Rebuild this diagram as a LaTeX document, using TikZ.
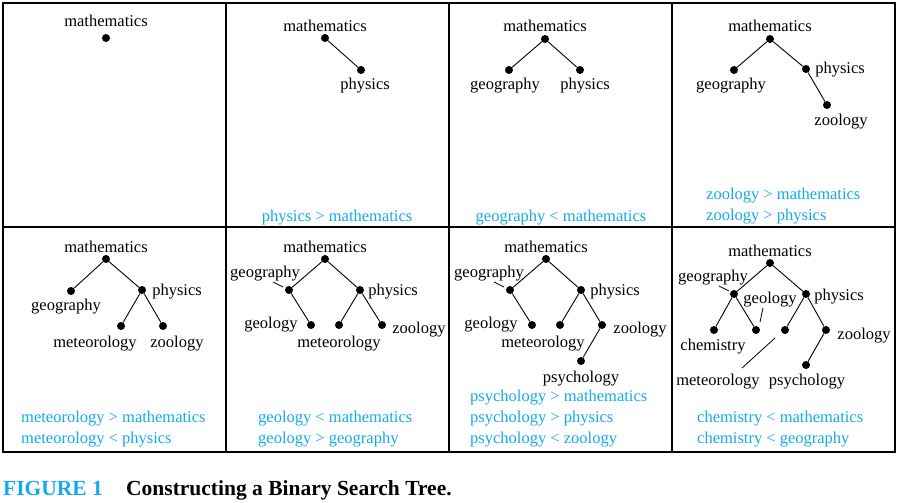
\documentclass[tikz,border=0pt]{standalone}
\usepackage{fontspec}
\setmainfont{Liberation Serif}
\definecolor{figblue}{RGB}{20,170,235}
\begin{document}
\begin{tikzpicture}[x=1pt,y=-1pt,
  dot/.style={circle,fill=black,draw=none,minimum size=8pt,inner sep=0pt},
  lbl/.style={anchor=base,inner sep=0pt,yshift=-2pt,font=\fontsize{16.5}{19}\selectfont},
  cmp/.style={anchor=base west,inner sep=0pt,yshift=-2pt,text=figblue,font=\fontsize{16.5}{19}\selectfont},
  cmpc/.style={cmp,anchor=base},
  edge/.style={draw=black,line width=0.9pt},
  lead/.style={draw=black,line width=0.8pt},
  grid/.style={draw=black,line width=1.4pt}]
\useasboundingbox (0,0) rectangle (898,503);
% grid
\draw[grid] (3,3) rectangle (895,452);
\draw[grid] (3,227) -- (895,227);
\draw[grid] (226,3) -- (226,452);
\draw[grid] (449,3) -- (449,452);
\draw[grid] (672,3) -- (672,452);

% Panel 1
\node[lbl] (m1) at (106,25) {mathematics};
\node[dot] (m1d) at (106,38) {};

% Panel 2
\node[lbl] (m2) at (325,30) {mathematics};
\node[dot] (m2d) at (325,38) {};
\node[dot] (p2d) at (361,70) {};
\node[lbl] (p2) at (365,88) {physics};
\draw[edge] (m2d) -- (p2d);
\node[cmpc] (c2) at (337,219) {physics > mathematics};

% Panel 3
\node[lbl] (m3) at (545,30) {mathematics};
\node[dot] (m3d) at (545,39) {};
\node[dot] (g3d) at (509,70) {};
\node[dot] (p3d) at (580,70) {};
\node[lbl] (g3) at (505,88) {geography};
\node[lbl] (p3) at (585,88) {physics};
\draw[edge] (m3d) -- (g3d);
\draw[edge] (m3d) -- (p3d);
\node[cmpc] (c3) at (561,219) {geography < mathematics};

% Panel 4
\node[lbl] (m4) at (770,30) {mathematics};
\node[dot] (m4d) at (770,39) {};
\node[dot] (g4d) at (734,70) {};
\node[dot] (p4d) at (806,69) {};
\node[dot] (z4d) at (827,105) {};
\node[lbl] (g4) at (731,88) {geography};
\node[lbl] (p4) at (840,72) {physics};
\node[lbl] (z4) at (841,123) {zoology};
\draw[edge] (m4d) -- (g4d);
\draw[edge] (m4d) -- (p4d);
\draw[edge] (p4d) -- (z4d);
\node[cmp] (c4a) at (706,197) {zoology > mathematics};
\node[cmp] (c4b) at (706,218) {zoology > physics};

% Panel 5
\node[lbl] (m5) at (106,250) {mathematics};
\node[dot] (m5d) at (106,259) {};
\node[dot] (g5d) at (71,291) {};
\node[dot] (p5d) at (142,290) {};
\node[dot] (e5d) at (121,326) {};
\node[dot] (z5d) at (163,326) {};
\node[lbl] (g5) at (66,308) {geography};
\node[lbl] (p5) at (177,293) {physics};
\node[lbl] (e5) at (95,345) {meteorology};
\node[lbl] (z5) at (177,345) {zoology};
\draw[edge] (m5d) -- (g5d);
\draw[edge] (m5d) -- (p5d);
\draw[edge] (p5d) -- (e5d);
\draw[edge] (p5d) -- (z5d);
\node[cmp] (c5a) at (21,420) {meteorology > mathematics};
\node[cmp] (c5b) at (21,441) {meteorology < physics};

% Panel 6
\node[lbl] (m6) at (325,250) {mathematics};
\node[dot] (m6d) at (325,259) {};
\node[dot] (g6d) at (289,290) {};
\node[dot] (p6d) at (360,290) {};
\node[dot] (l6d) at (311,325) {};
\node[dot] (e6d) at (339,325) {};
\node[dot] (z6d) at (382,325) {};
\node[lbl] (g6) at (265,275) {geography};
\node[lbl] (p6) at (393,293) {physics};
\node[lbl] (l6) at (271,326) {geology};
\node[lbl] (e6) at (339,345) {meteorology};
\node[lbl] (z6) at (419,331) {zoology};
\draw[edge] (m6d) -- (g6d);
\draw[edge] (m6d) -- (p6d);
\draw[edge] (g6d) -- (l6d);
\draw[edge] (p6d) -- (e6d);
\draw[edge] (p6d) -- (z6d);
\coordinate (g6a) at (273,282);
\coordinate (g6b) at (283,287);
\draw[lead] (g6a) -- (g6b);
\node[cmp] (c6a) at (258,420) {geology < mathematics};
\node[cmp] (c6b) at (258,441) {geology > geography};

% Panel 7
\node[lbl] (m7) at (546,250) {mathematics};
\node[dot] (m7d) at (546,259) {};
\node[dot] (g7d) at (510,290) {};
\node[dot] (p7d) at (581,290) {};
\node[dot] (l7d) at (532,325) {};
\node[dot] (e7d) at (560,325) {};
\node[dot] (z7d) at (602,325) {};
\node[dot] (s7d) at (581,361) {};
\node[lbl] (g7) at (489,275) {geography};
\node[lbl] (p7) at (615,293) {physics};
\node[lbl] (l7) at (491,326) {geology};
\node[lbl] (e7) at (543,345) {meteorology};
\node[lbl] (z7) at (640,331) {zoology};
\node[lbl] (s7) at (581,380) {psychology};
\draw[edge] (m7d) -- (g7d);
\draw[edge] (m7d) -- (p7d);
\draw[edge] (g7d) -- (l7d);
\draw[edge] (p7d) -- (e7d);
\draw[edge] (p7d) -- (z7d);
\draw[edge] (z7d) -- (s7d);
\coordinate (g7a) at (494,282);
\coordinate (g7b) at (504,287);
\draw[lead] (g7a) -- (g7b);
\node[cmp] (c7a) at (470,399) {psychology > mathematics};
\node[cmp] (c7b) at (470,420) {psychology > physics};
\node[cmp] (c7c) at (470,441) {psychology < zoology};

% Panel 8
\node[lbl] (m8) at (770,254) {mathematics};
\node[dot] (m8d) at (770,263) {};
\node[dot] (g8d) at (734,294) {};
\node[dot] (p8d) at (806,294) {};
\node[dot] (h8d) at (714,330) {};
\node[dot] (l8d) at (756,330) {};
\node[dot] (e8d) at (785,330) {};
\node[dot] (z8d) at (826,330) {};
\node[dot] (s8d) at (806,365) {};
\node[lbl] (g8) at (713,279) {geography};
\node[lbl] (l8) at (770,301) {geology};
\node[lbl] (p8) at (839,298) {physics};
\node[lbl] (h8) at (713,348) {chemistry};
\node[lbl] (z8) at (864,337) {zoology};
\node[lbl] (e8) at (718,383) {meteorology};
\node[lbl] (s8) at (807,383) {psychology};
\draw[edge] (m8d) -- (g8d);
\draw[edge] (m8d) -- (p8d);
\draw[edge] (g8d) -- (h8d);
\draw[edge] (g8d) -- (l8d);
\draw[edge] (p8d) -- (e8d);
\draw[edge] (p8d) -- (z8d);
\draw[edge] (z8d) -- (s8d);
\coordinate (g8a) at (719,286);
\coordinate (g8b) at (729,291);
\draw[lead] (g8a) -- (g8b);
\coordinate (l8a) at (763,308);
\coordinate (l8b) at (760,322);
\draw[lead] (l8a) -- (l8b);
\coordinate (e8a) at (742,368);
\coordinate (e8b) at (775,338);
\draw[lead] (e8a) -- (e8b);
\node[cmp] (c8a) at (697,420) {chemistry < mathematics};
\node[cmp] (c8b) at (697,441) {chemistry < geography};

% caption
\node[anchor=base west,inner sep=0pt,font=\fontsize{21.5}{25}\selectfont\bfseries,text=figblue] (fig) at (3,495) {FIGURE 1};
\node[anchor=base west,inner sep=0pt,font=\fontsize{21.5}{25}\selectfont\bfseries] (cap) at (126,495) {Constructing a Binary Search Tree.};
\end{tikzpicture}
\end{document}
